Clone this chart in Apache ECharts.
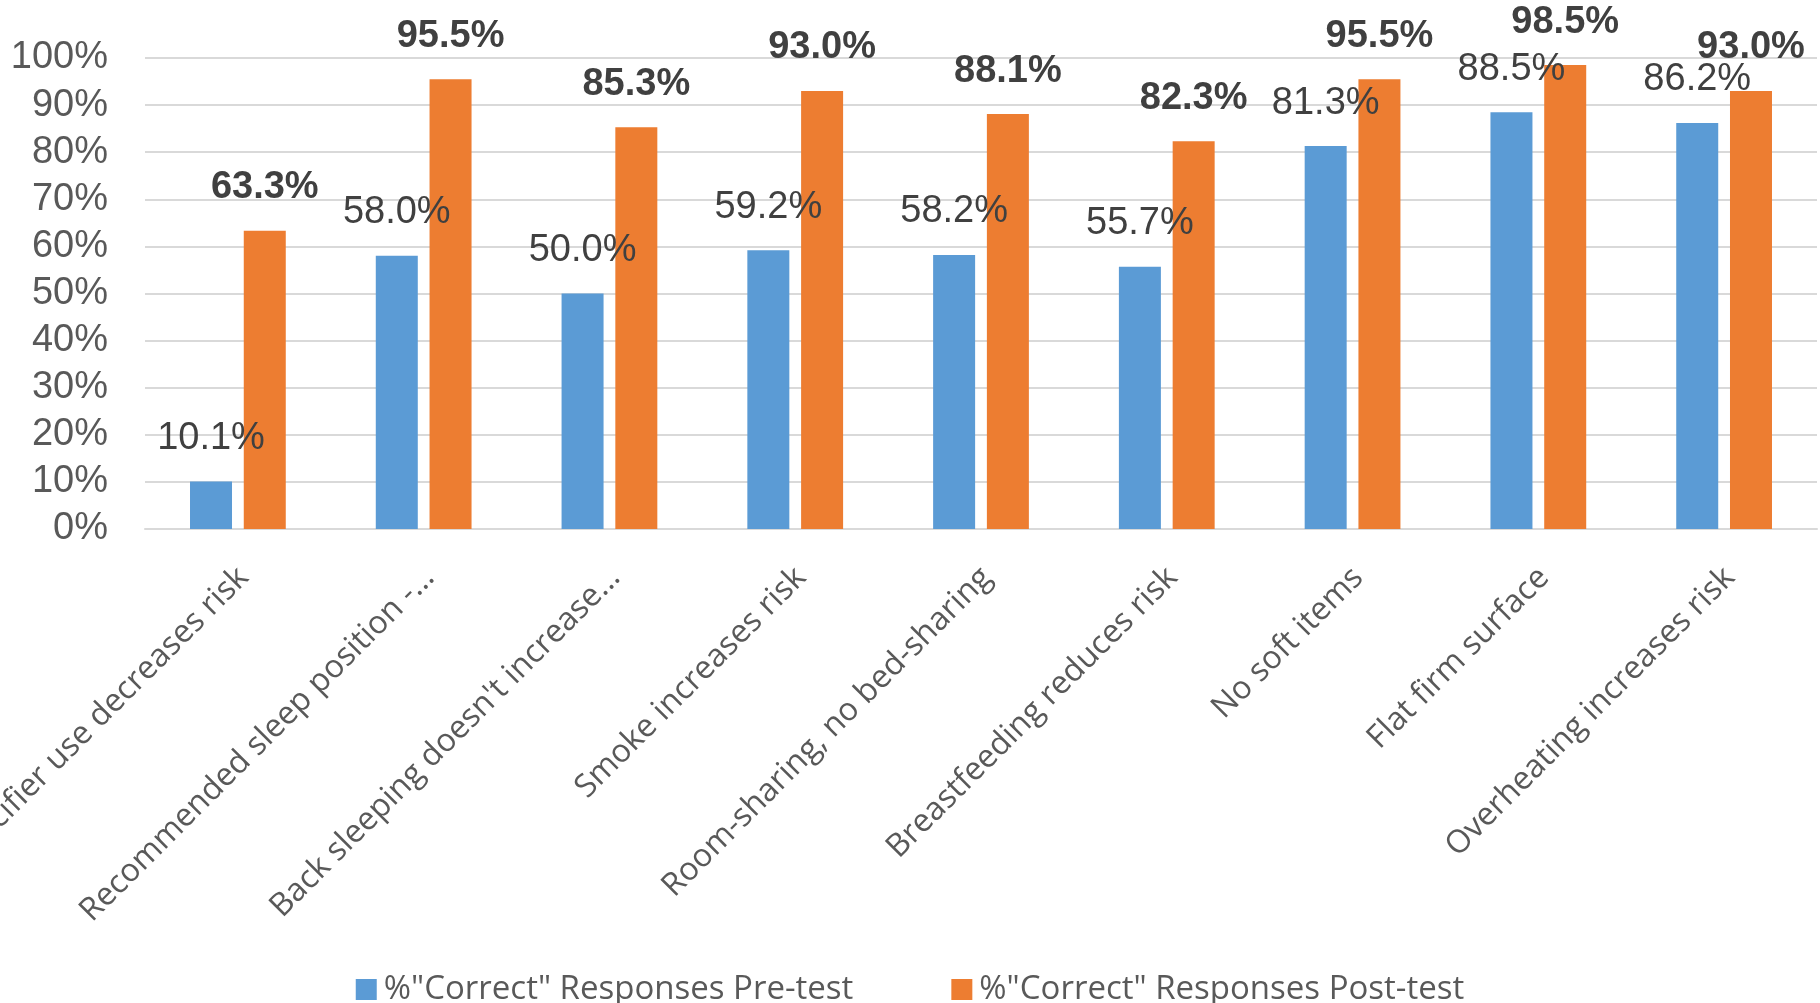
<!DOCTYPE html>
<html>
<head>
<meta charset="utf-8">
<style>
  html, body { margin: 0; padding: 0; background: #ffffff; }
  #chart { width: 1820px; height: 1003px; }
</style>
<script src="https://cdn.jsdelivr.net/npm/echarts@6/dist/echarts.min.js"></script>
</head>
<body>
<div id="chart"></div>
<script>
// Safe-sleep knowledge items, percent of correct answers before and after the session
const categories = [
  'Pacifier use decreases risk',
  'Recommended sleep position -...',
  "Back sleeping doesn't increase...",
  'Smoke increases risk',
  'Room-sharing, no bed-sharing',
  'Breastfeeding reduces risk',
  'No soft items',
  'Flat firm surface',
  'Overheating increases risk'
];
const preTest  = [10.1, 58.0, 50.0, 59.2, 58.2, 55.7, 81.3, 88.5, 86.2];
const postTest = [63.3, 95.5, 85.3, 93.0, 88.1, 82.3, 95.5, 98.5, 93.0];
const seriesNames = ['%"Correct" Responses Pre-test', '%"Correct" Responses Post-test'];
const yTicks = { min: 0, max: 100, interval: 10 };

const chart = echarts.init(document.getElementById('chart'), null, { renderer: 'canvas' });

const pctFmt = p => p.value.toFixed(1) + '%';

chart.setOption({
  animation: false,
  backgroundColor: '#ffffff',
  grid: { left: 145, right: 3, top: 58, bottom: 474, containLabel: false, outerBoundsMode: 'none' },
  legend: {
    data: seriesNames,
    left: 'center',
    top: 968,
    itemWidth: 21,
    itemHeight: 21,
    itemGap: 98,
    icon: 'rect',
    textStyle: { fontFamily: 'Open Sans', fontSize: 33, color: '#595959', padding: [0, 0, 0, 2] }
  },
  xAxis: {
    type: 'category',
    data: categories,
    axisLine: { lineStyle: { color: '#d9d9d9', width: 2 } },
    axisTick: { show: false },
    axisLabel: {
      interval: 0,
      rotate: 45,
      margin: 38,
      formatter: v => '{c|' + v + '}',
      rich: {
        c: {
          fontFamily: 'Open Sans',
          fontSize: 32,
          color: '#595959',
          padding: [16, 0, 0, 0]
        }
      }
    }
  },
  yAxis: {
    type: 'value',
    min: yTicks.min,
    max: yTicks.max,
    interval: yTicks.interval,
    axisLine: { show: false },
    axisTick: { show: false },
    splitLine: { lineStyle: { color: '#d9d9d9', width: 2 } },
    axisLabel: {
      formatter: '{value}%',
      margin: 37,
      fontFamily: 'Liberation Sans, Arial, sans-serif',
      fontSize: 38,
      color: '#595959'
    }
  },
  series: [
    {
      name: seriesNames[0],
      type: 'bar',
      data: preTest,
      barWidth: 42,
      barGap: '28%',
      itemStyle: { color: '#5b9bd5' },
      label: {
        show: true,
        position: 'top',
        distance: 24,
        formatter: pctFmt,
        fontFamily: 'Liberation Sans, Arial, sans-serif',
        fontSize: 38,
        color: '#404040'
      }
    },
    {
      name: seriesNames[1],
      type: 'bar',
      data: postTest,
      barWidth: 42,
      itemStyle: { color: '#ed7d31' },
      label: {
        show: true,
        position: 'top',
        distance: 24,
        formatter: pctFmt,
        fontFamily: 'Liberation Sans, Arial, sans-serif',
        fontWeight: 'bold',
        fontSize: 38,
        color: '#404040'
      }
    }
  ]
});
</script>
</body>
</html>
